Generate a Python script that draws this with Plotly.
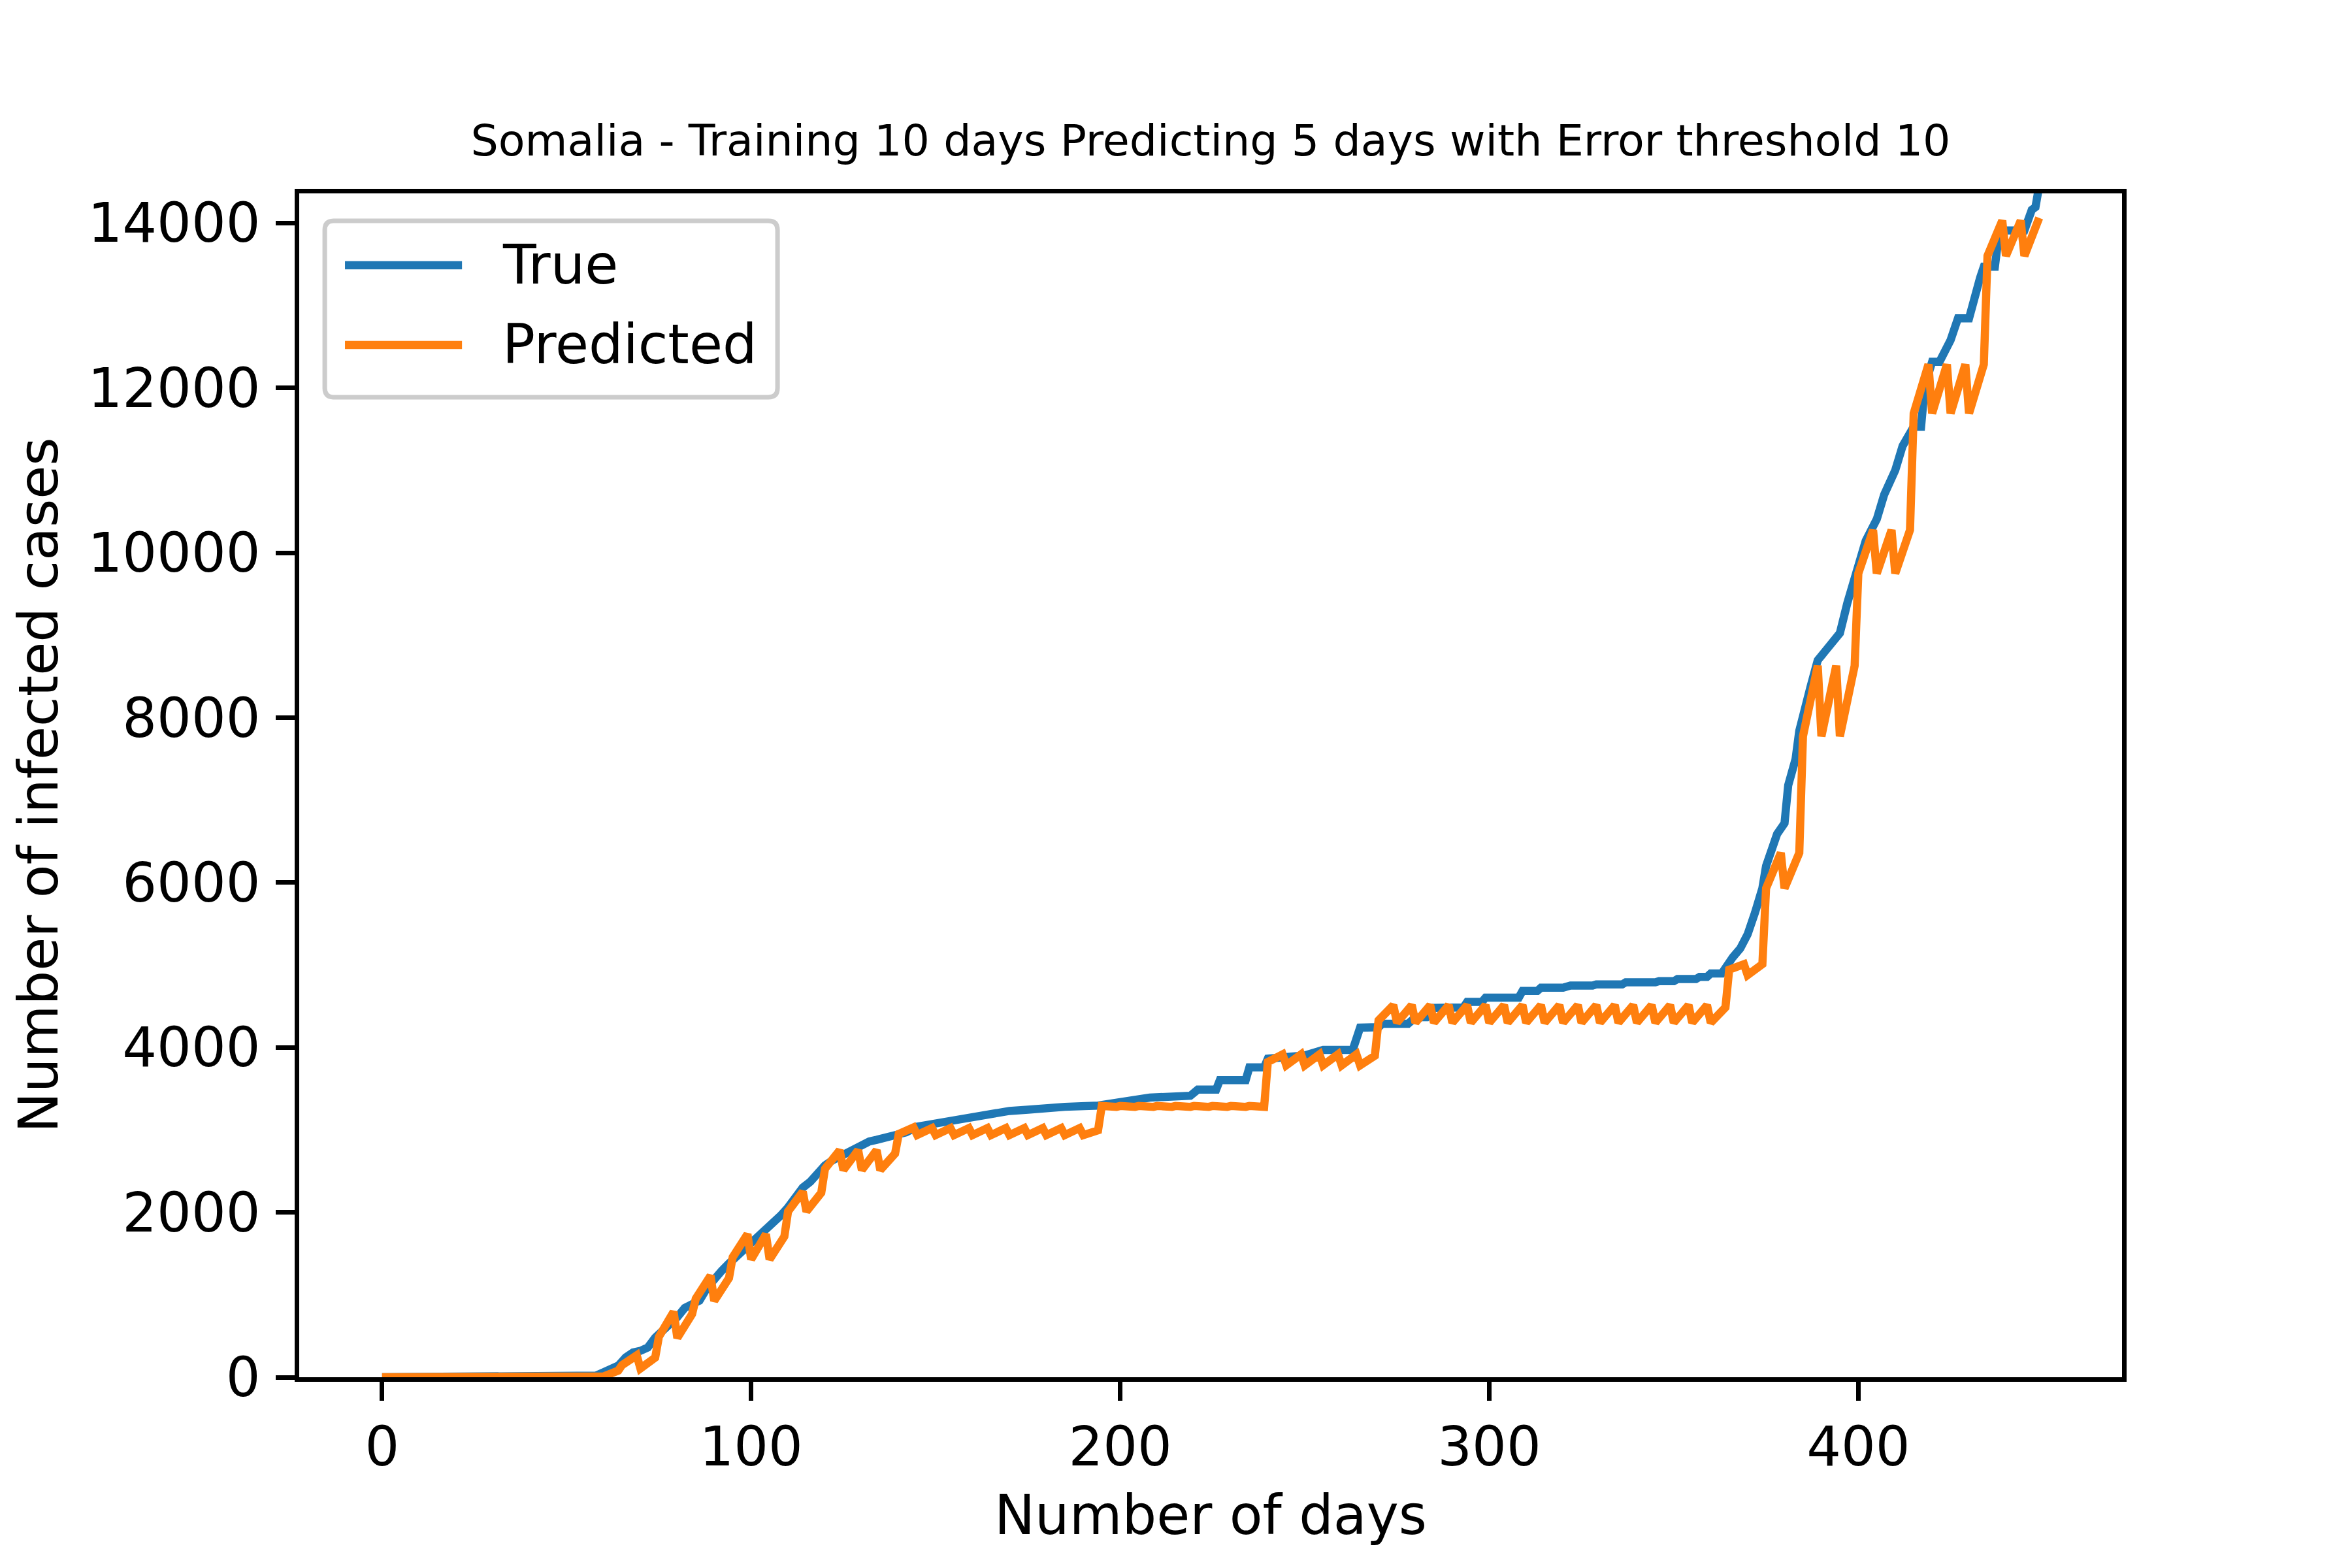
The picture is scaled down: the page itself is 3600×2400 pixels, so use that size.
#!/usr/bin/env python
# coding: utf-8

"""Somalia: true vs predicted cumulative infected cases (10 day training, 5 day prediction)."""

import plotly.graph_objects as go

# true cumulative cases (day index, cases)
TRUE_DAYS = [
    0, 54, 58, 60, 62, 64, 66, 68, 70, 72, 74, 76, 78, 80, 82, 84, 86, 88, 90,
    92, 94, 96, 98, 100, 102, 104, 106, 108, 110, 112, 114, 116, 118, 120, 122,
    124, 126, 128, 130, 132, 134, 136, 138, 140, 142, 145, 150, 155, 160, 165,
    170, 175, 183, 185, 194, 199, 205, 208, 219, 221, 226, 227, 234, 235, 239,
    240, 250, 255, 263, 265, 270, 271, 278, 280, 283, 285, 293, 294, 298, 299,
    308, 309, 313, 314, 320, 322, 328, 329, 336, 337, 345, 346, 350, 351, 356,
    357, 359, 360, 363, 365, 366, 368, 370, 372, 374, 375, 378, 380, 381, 383,
    384, 387, 389, 392, 395, 397, 400, 402, 405, 407, 410, 412, 415, 417, 418,
    420, 422, 425, 427, 430, 433, 434, 437, 438, 440, 445, 447, 448, 449,
]
TRUE_CASES = [
    0, 1, 20, 60, 100, 140, 240, 300, 320, 360, 480, 560, 630, 730, 840, 890,
    930, 1080, 1200, 1290, 1380, 1460, 1540, 1630, 1720, 1780, 1860, 1960, 2060,
    2200, 2300, 2370, 2480, 2570, 2630, 2680, 2720, 2770, 2820, 2860, 2880, 2900,
    2930, 2950, 2970, 3040, 3080, 3110, 3150, 3210, 3230, 3245, 3255, 3280, 3295,
    3334, 3374, 3392, 3414, 3488, 3488, 3604, 3604, 3758, 3758, 3864, 3903, 3970,
    3970, 4240, 4245, 4288, 4288, 4367, 4367, 4480, 4486, 4552, 4552, 4605, 4605,
    4685, 4685, 4725, 4725, 4751, 4751, 4764, 4764, 4791, 4791, 4804, 4804, 4830,
    4830, 4857, 4857, 4897, 4897, 5055, 5095, 5200, 5372, 5635, 5931, 6200, 6590,
    6720, 7180, 7500, 7840, 8367, 8697, 8861, 9026, 9388, 9882, 10145, 10408,
    10705, 11001, 11297, 11528, 11528, 12022, 12318, 12318, 12581, 12845, 12845,
    13338, 13470, 13470, 13832, 13911, 13911, 14161, 14194, 14450,
]

# predicted cases, one 5-day block at a time: value on first and last day of block
BLOCK_DAYS = list(range(0, 450, 5))
PRED_START = [
    0, 0, 0, 0, 0, 0, 0, 0, 0, 0, 0, 0, 10, 146, 106, 490, 477, 953, 926, 1456,
    1429, 1429, 2011, 2011, 2528, 2514, 2514, 2514, 2951, 2938, 2937, 2937, 2937,
    2937, 2937, 2937, 2937, 2937, 2937, 3290, 3290, 3290, 3290, 3290, 3290, 3290,
    3290, 3290, 3824, 3784, 3784, 3784, 3784, 3784, 4328, 4301, 4301, 4301, 4301,
    4301, 4301, 4301, 4301, 4301, 4301, 4301, 4301, 4301, 4301, 4301, 4301, 4301,
    4301, 4944, 4878, 5931, 5931, 7775, 7775, 7775, 9750, 9750, 9750, 11692,
    11692, 11692, 11692, 13602, 13602, 13602,
]
PRED_END = [
    0, 0, 0, 0, 0, 0, 0, 0, 0, 0, 0, 0, 80, 265, 238, 794, 767, 1231, 1204, 1734,
    1734, 1707, 2250, 2237, 2753, 2753, 2753, 2713, 3030, 3022, 3022, 3022, 3022,
    3022, 3022, 3022, 3022, 3022, 2995, 3280, 3280, 3280, 3280, 3280, 3280, 3280,
    3280, 3280, 3916, 3916, 3916, 3916, 3916, 3900, 4513, 4513, 4513, 4513, 4513,
    4513, 4513, 4513, 4513, 4513, 4513, 4513, 4513, 4513, 4513, 4513, 4513, 4513,
    4486, 5010, 5010, 6360, 6360, 8631, 8631, 8631, 10277, 10277, 10277, 12285,
    12285, 12285, 12285, 14030, 14030, 14063,
]

X_TICKS = [0, 100, 200, 300, 400]
Y_TICKS = [0, 2000, 4000, 6000, 8000, 10000, 12000, 14000]

TITLE = "Somalia - Training 10 days Predicting 5 days with Error threshold 10"
BLUE = "#1f77b4"
ORANGE = "#ff7f0e"
FONT = "DejaVu Sans"

# predicted line goes start -> end inside a block, then jumps to next block
pred_x, pred_y = [], []
for d, s, e in zip(BLOCK_DAYS, PRED_START, PRED_END):
    pred_x += [d, d + 4]
    pred_y += [s, e]

fig = go.Figure()
fig.add_trace(
    go.Scatter(x=TRUE_DAYS, y=TRUE_CASES, mode="lines", name="True",
               line=dict(color=BLUE, width=12.5))
)
fig.add_trace(
    go.Scatter(x=pred_x, y=pred_y, mode="lines", name="Predicted",
               line=dict(color=ORANGE, width=12.5))
)

axis_style = dict(
    showline=True, linecolor="black", linewidth=6.7, mirror=True,
    ticks="outside", ticklen=29, tickwidth=6.7, tickcolor="black",
    showgrid=False, zeroline=False, tickformat="d",
    tickfont=dict(family=FONT, size=83, color="black"),
)
fig.update_xaxes(range=[-22.45, 471.45], tickvals=X_TICKS, **axis_style)
fig.update_yaxes(range=[0, 14360], tickvals=Y_TICKS, ticklabelstandoff=7, **axis_style)

# legend drawn by hand so the line samples get matplotlib's length
legend_shapes = [
    dict(type="path", xref="paper", yref="paper",
         path="M 0.0190,0.9768 L 0.2574,0.9768 Q 0.2624,0.9768 0.2624,0.9691 "
              "L 0.2624,0.8355 Q 0.2624,0.8278 0.2574,0.8278 L 0.0190,0.8278 "
              "Q 0.0140,0.8278 0.0140,0.8355 L 0.0140,0.9691 Q 0.0140,0.9768 0.0190,0.9768 Z",
         line=dict(color="#cccccc", width=7), fillcolor="rgba(255,255,255,0.8)"),
    dict(type="line", xref="paper", yref="paper", x0=0.0251, x1=0.0893,
         y0=0.9393, y1=0.9393, line=dict(color=BLUE, width=12.5)),
    dict(type="line", xref="paper", yref="paper", x0=0.0251, x1=0.0893,
         y0=0.8720, y1=0.8720, line=dict(color=ORANGE, width=12.5)),
]
legend_notes = [
    dict(text="True", x=0.1108, y=0.9393),
    dict(text="Predicted", x=0.1108, y=0.8720),
]

annotations = [
    dict(xref="paper", yref="paper", xanchor="left", yanchor="middle",
         showarrow=False, font=dict(family=FONT, size=83, color="black"), **n)
    for n in legend_notes
]
annotations += [
    dict(text="Number of days", xref="paper", yref="paper", x=0.5, y=-0.1165,
         xanchor="center", yanchor="middle", showarrow=False,
         font=dict(family=FONT, size=83, color="black")),
    dict(text="Number of infected cases", xref="paper", yref="paper", x=-0.143,
         y=0.5, xanchor="center", yanchor="middle", textangle=-90, showarrow=False,
         font=dict(family=FONT, size=83, color="black")),
]

fig.update_layout(
    width=3600,
    height=2400,
    margin=dict(l=450, r=360, t=288, b=300),
    paper_bgcolor="white",
    plot_bgcolor="white",
    showlegend=False,
    title=dict(text=TITLE, x=0.5, xref="paper", y=1 - 207 / 2400, yref="container",
               xanchor="center", yanchor="middle",
               font=dict(family=FONT, size=66.7, color="black")),
    shapes=legend_shapes,
    annotations=annotations,
)

fig.write_html("out.html")
